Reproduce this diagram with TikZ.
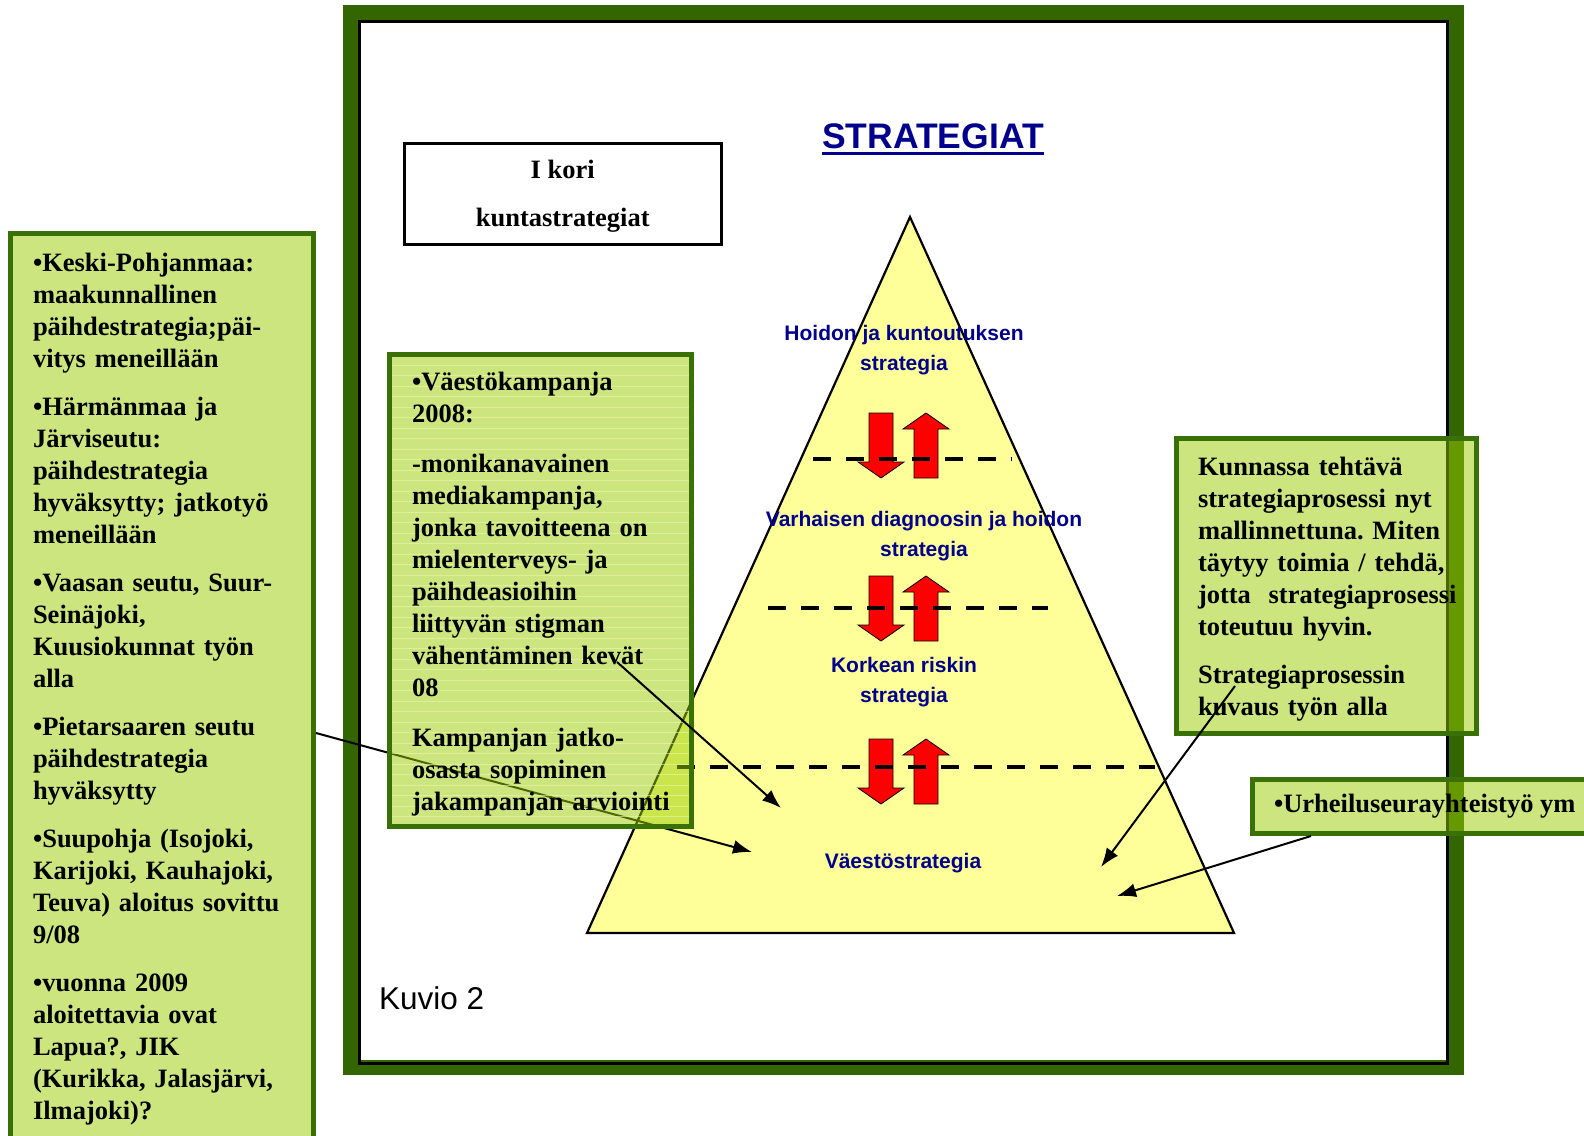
\documentclass[tikz,border=0pt]{standalone}
\usepackage{fontspec}
\setmainfont{Liberation Serif}
\newfontfamily\arialfont{Liberation Sans}
\usetikzlibrary{arrows.meta}

\definecolor{framegreen}{RGB}{51,102,0}
\definecolor{boxline}{RGB}{58,112,8}
\definecolor{boxfill}{RGB}{153,204,0}
\definecolor{pyryellow}{RGB}{255,255,153}
\definecolor{labelblue}{RGB}{0,0,140}
\definecolor{stripecol}{RGB}{235,245,170}

\newcommand\boxfont{\bfseries\fontsize{26.5}{32}\selectfont\frenchspacing\hyphenpenalty=10000\exhyphenpenalty=10000}
\newcommand\pyrfont{\arialfont\bfseries\fontsize{21}{30}\selectfont}

\tikzset{
  greenbox/.style={draw=boxline, line width=5pt, fill=boxfill, fill opacity=0.5,
    text opacity=1, anchor=north west, align=left, font=\boxfont},
  pyramid/.style={draw, fill=pyryellow, line width=2.2pt},
  redarrow/.style={draw, fill=red, line width=0.8pt},
  dashline/.style={line width=4pt, dash pattern=on 18pt off 15pt},
  pyrlabel/.style={font=\pyrfont, text=labelblue, align=center, inner sep=0pt},
  conn/.style={draw, line width=2pt, -{Latex[length=19pt,width=14pt]}},
  stripe/.style={draw=stripecol, line width=1pt, draw opacity=0.6}
}

\begin{document}
\begin{tikzpicture}[x=1pt, y=-1pt]
  \useasboundingbox (0,0) rectangle (1584,1135);
  \clip (0,0) rectangle (1584,1135);

  % frame
  \draw[framegreen, line width=15pt] (350.5,12.5) rectangle (1456.5,1067.5);
  \draw[line width=3.5pt] (359.5,21.5) rectangle (1447.5,1063.5);

  \node[draw, line width=2.5pt, fill=white, minimum width=317, minimum height=101,
    align=center, font=\boxfont, anchor=north west] (kori) at (403,142)
    {\rule{0pt}{24pt}I kori\\[16pt]kuntastrategiat};
  \node[font=\arialfont\bfseries\fontsize{35.5}{40}\selectfont, text=labelblue,
    anchor=base, inner sep=0pt] (title) at (933,148) {STRATEGIAT};
  \draw[labelblue, line width=3pt] ([yshift=-5.5pt]title.base west) -- ([yshift=-5.5pt]title.base east);
  \node[font=\arialfont\fontsize{31.5}{36}\selectfont, anchor=base west, inner sep=0pt]
    (kuvio) at (379,1009) {Kuvio 2};

  % pyramid
  \coordinate (apex) at (910,217);
  \coordinate (baseR) at (1234,933);
  \coordinate (baseL) at (587,933);
  \draw[pyramid] (apex) -- (baseR) -- (baseL) -- cycle;

  \foreach \yy in {413,576,739}{
    \draw[redarrow] (869,\yy) -- (893,\yy) -- (893,{\yy+49}) -- (904,{\yy+49})
      -- (881,{\yy+65}) -- (858,{\yy+49}) -- (869,{\yy+49}) -- cycle;
    \draw[redarrow] (914,{\yy+65}) -- (914,{\yy+16}) -- (903,{\yy+16}) -- (926,\yy)
      -- (949,{\yy+16}) -- (938,{\yy+16}) -- (938,{\yy+65}) -- cycle;
  }

  \draw[dashline] (813,459) -- (1012,459);
  \draw[dashline] (768,608) -- (1048,608);
  \draw[dashline] (677,767) -- (1155,767);

  \node[pyrlabel] (hoito) at (904,350) {Hoidon ja kuntoutuksen\\strategia};
  \node[pyrlabel] (varhainen) at (924,536) {Varhaisen diagnoosin ja hoidon\\strategia};
  \node[pyrlabel] (korkea) at (904,682) {Korkean riskin\\strategia};
  \node[pyrlabel] (vaesto) at (903,863) {Väestöstrategia};

  % left box
  \node[greenbox, text width=258pt, inner xsep=22.5pt, inner ysep=20pt] (leftbox) at (8,231)
    {•Keski-Pohjanmaa:\\maakunnallinen\\päihdestrategia;päi-\\vitys meneillään\\[16pt]
     •Härmänmaa ja\\Järviseutu:\\päihdestrategia\\hyväksytty; jatkotyö\\meneillään\\[16pt]
     •Vaasan seutu, Suur-\\Seinäjoki,\\Kuusiokunnat työn\\alla\\[16pt]
     •Pietarsaaren seutu\\päihdestrategia\\hyväksytty\\[16pt]
     •Suupohja (Isojoki,\\Karijoki, Kauhajoki,\\Teuva) aloitus sovittu\\9/08\\[16pt]
     •vuonna 2009\\aloitettavia ovat\\Lapua?, JIK\\(Kurikka, Jalasjärvi,\\Ilmajoki)?};

  \coordinate (pietari) at (leftbox.east |- 0,733);
  \coordinate (tipA) at (752,852);
  \draw[conn] (pietari) -- (tipA);

  % campaign box
  \node[greenbox, text width=257pt, inner xsep=22.5pt, inner ysep=0pt, minimum height=472,
    path picture={\foreach \k in {1,...,45}{
      \draw[stripe] ([yshift=-\k*10.5pt]path picture bounding box.north west)
        -- ([yshift=-\k*10.5pt]path picture bounding box.north east);}}] (kampanja) at (387,352)
    {\rule{0pt}{26pt}•Väestökampanja\\2008:\\[18pt]
     -monikanavainen\\mediakampanja,\\jonka tavoitteena on\\mielenterveys- ja\\päihdeasioihin\\liittyvän stigman\\vähentäminen kevät\\08\\[18pt]
     Kampanjan jatko-\\osasta sopiminen\\jakampanjan~arviointi};

  \coordinate (kevat) at (617,662);
  \coordinate (tipB) at (781,808);
  \draw[conn] (kevat) -- (tipB);

  % right boxes
  \node[greenbox, text width=257pt, inner xsep=21.5pt, inner ysep=0pt, minimum height=295] (prosessi) at (1174,436)
    {\rule{0pt}{24pt}Kunnassa tehtävä\\strategiaprosessi nyt\\mallinnettuna. Miten\\täytyy toimia / tehdä,\\jotta~~strategiaprosessi\\toteutuu hyvin.\\[16pt]
     Strategiaprosessin\\kuvaus työn alla};
  \node[greenbox, inner xsep=21.5pt, inner ysep=0pt, minimum height=54] (urheilu) at (1250,777)
    {•Urheiluseurayhteistyö ym};

  \coordinate (kuvaus) at (1235,686);
  \coordinate (tipC) at (1101,867);
  \draw[conn] (kuvaus) -- (tipC);
  \coordinate (tipD) at (1117,896);
  \draw[conn] (urheilu.south west -| 1311,0) -- (tipD);
\end{tikzpicture}
\end{document}
